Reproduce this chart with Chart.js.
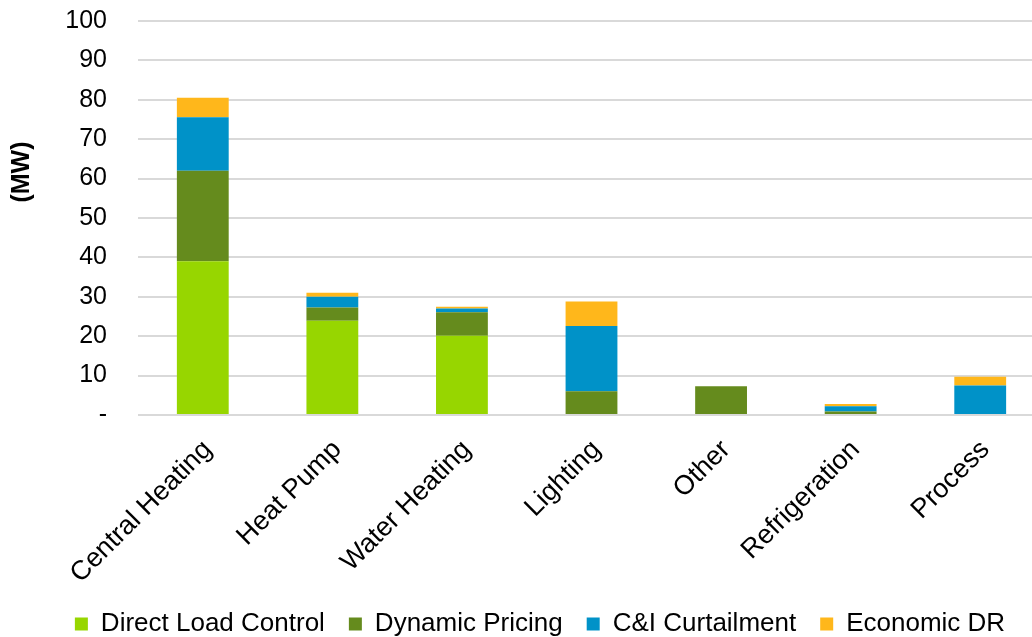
<!DOCTYPE html>
<html lang="en">
<head>
    <meta charset="UTF-8">
    <title>Demand Response Potential by End Use</title>
    <script src="https://cdn.jsdelivr.net/npm/chart.js"></script>
    <style>
        body { margin: 0; background: #fff; }
        #wrap { width: 1032px; height: 637px; overflow: hidden; }
    </style>
</head>
<body>

<div id="wrap">
    <canvas id="drChart" width="1045" height="647"></canvas>
</div>

<script>
    // end uses along the x axis
    const endUses = ['Central Heating', 'Heat Pump', 'Water Heating', 'Lighting', 'Other', 'Refrigeration', 'Process'];

    // MW by program type
    const directLoadControl = [39.0, 23.9, 20.1, 0, 0, 0, 0];
    const dynamicPricing    = [23.0, 3.4, 6.0, 6.0, 7.3, 0.9, 0];
    const ciCurtailment     = [13.6, 2.7, 0.9, 16.6, 0, 1.3, 7.5];
    const economicDR        = [4.9, 1.0, 0.5, 6.2, 0, 0.6, 2.2];

    const yTicks = [0, 10, 20, 30, 40, 50, 60, 70, 80, 90, 100];

    const FONT = "'Liberation Sans', Arial, sans-serif";

    // y axis title sits a bit above the middle of the axis
    const axisTitle = {
        id: 'axisTitle',
        afterDraw(chart) {
            const c = chart.ctx;
            c.save();
            c.translate(22, 172);
            c.rotate(-Math.PI / 2);
            c.font = 'bold 25px ' + FONT;
            c.fillStyle = '#000';
            c.textAlign = 'center';
            c.textBaseline = 'middle';
            c.fillText('(MW)', 0, 0);
            c.restore();
        }
    };

    const ctx = document.getElementById('drChart').getContext('2d');
    new Chart(ctx, {
        type: 'bar',
        data: {
            labels: endUses,
            datasets: [
                { label: 'Direct Load Control', data: directLoadControl, backgroundColor: '#97d600' },
                { label: 'Dynamic Pricing', data: dynamicPricing, backgroundColor: '#658b1d' },
                { label: 'C&I Curtailment', data: ciCurtailment, backgroundColor: '#0092c8' },
                { label: 'Economic DR', data: economicDR, backgroundColor: '#ffb71b' }
            ]
        },
        options: {
            responsive: false,
            animation: false,
            layout: { padding: { left: 35, top: 21, right: 0, bottom: 0 } },
            datasets: {
                bar: { barPercentage: 0.4, categoryPercentage: 1.0 }
            },
            plugins: {
                tooltip: { enabled: false },
                legend: {
                    position: 'bottom',
                    labels: {
                        boxWidth: 13,
                        boxHeight: 13,
                        padding: 24,
                        color: '#000',
                        font: { family: FONT, size: 26 }
                    }
                }
            },
            scales: {
                x: {
                    stacked: true,
                    grid: { display: false },
                    border: { display: false },
                    ticks: {
                        color: '#000',
                        font: { family: FONT, size: 27 },
                        minRotation: 45,
                        maxRotation: 45,
                        autoSkip: false,
                        padding: 11,
                        labelOffset: 5
                    },
                    afterFit(scale) { scale.height = 172; }
                },
                y: {
                    stacked: true,
                    min: 0,
                    max: 100,
                    afterBuildTicks(scale) { scale.ticks = yTicks.map(v => ({ value: v })); },
                    grid: { color: '#d9d9d9', lineWidth: 2, drawTicks: false },
                    border: { display: false },
                    ticks: {
                        color: '#000',
                        font: { family: FONT, size: 25 },
                        padding: 31,
                        callback: v => v === 0 ? '-' : v
                    },
                    afterFit(scale) {
                        scale.width = 103;
                        // the wide label gap should not push the plot down
                        scale.paddingTop = 14;
                        scale.paddingBottom = 14;
                    }
                }
            }
        },
        plugins: [axisTitle]
    });
</script>

</body>
</html>
